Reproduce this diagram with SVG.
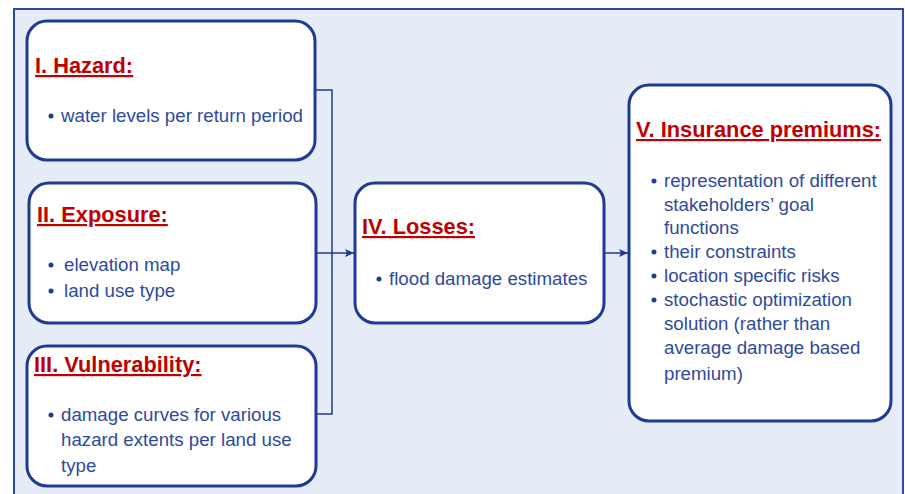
<svg xmlns="http://www.w3.org/2000/svg" width="905" height="494" viewBox="0 0 905 494">
<defs>
<style>
.box{fill:#fff;stroke:#1f3a93;stroke-width:3}
.t{font-family:"Liberation Sans",Arial,sans-serif;font-weight:bold;font-size:21.8px;fill:#c00000;text-decoration:underline}
.b{font-family:"Liberation Sans",Arial,sans-serif;font-size:18.7px;fill:#2e4a9e}
.dot{fill:#1f3a93}
.c{fill:none;stroke:#1f3a93;stroke-width:1.5}
</style>
<marker id="ar" markerWidth="10" markerHeight="10" refX="9" refY="5" orient="auto" markerUnits="userSpaceOnUse">
<path d="M0,1 L9,5 L0,9 L2,5 Z" fill="#1f3a93"/>
</marker>
</defs>
<rect x="14" y="9" width="889" height="495" fill="#e6ecf7" stroke="#2e49a0" stroke-width="2"/>
<g id="connectors">
<polyline class="c" points="315,90 332,90 332,414 316,414"/>
<line class="c" x1="316" y1="253" x2="354" y2="253" marker-end="url(#ar)"/>
<line class="c" x1="604" y1="253" x2="628" y2="253" marker-end="url(#ar)"/>
</g>
<g id="hazard">
<rect class="box" x="27" y="21" width="288" height="139" rx="20"/>
<text class="t" x="35" y="73">I. Hazard:</text>
<circle class="dot" cx="51" cy="116" r="2.5"/>
<text class="b" x="61" y="122">water levels per return period</text>
</g>
<g id="exposure">
<rect class="box" x="29" y="183" width="287" height="140" rx="20"/>
<text class="t" x="37" y="222">II. Exposure:</text>
<circle class="dot" cx="51" cy="265" r="2.5"/>
<text class="b" x="64" y="271">elevation map</text>
<circle class="dot" cx="51" cy="291" r="2.5"/>
<text class="b" x="64" y="297">land use type</text>
</g>
<g id="vulnerability">
<rect class="box" x="27" y="346" width="289" height="140" rx="20"/>
<text class="t" x="34" y="372">III. Vulnerability:</text>
<circle class="dot" cx="51" cy="415" r="2.5"/>
<text class="b" x="61" y="421">damage curves for various</text>
<text class="b" x="61" y="446">hazard extents per land use</text>
<text class="b" x="61" y="472">type</text>
</g>
<g id="losses">
<rect class="box" x="355" y="183" width="249" height="140" rx="20"/>
<text class="t" x="362" y="234">IV. Losses:</text>
<circle class="dot" cx="379" cy="279" r="2.5"/>
<text class="b" x="389" y="285">flood damage estimates</text>
</g>
<g id="premiums">
<rect class="box" x="629" y="85" width="262" height="336" rx="20"/>
<text class="t" x="636" y="137">V. Insurance premiums:</text>
<circle class="dot" cx="654" cy="181" r="2.5"/>
<text class="b" x="664" y="187">representation of different</text>
<text class="b" x="664" y="211">stakeholders’ goal</text>
<text class="b" x="664" y="234">functions</text>
<circle class="dot" cx="654" cy="252" r="2.5"/>
<text class="b" x="664" y="258">their constraints</text>
<circle class="dot" cx="654" cy="276" r="2.5"/>
<text class="b" x="664" y="282">location specific risks</text>
<circle class="dot" cx="654" cy="300" r="2.5"/>
<text class="b" x="664" y="306">stochastic optimization</text>
<text class="b" x="664" y="330">solution (rather than</text>
<text class="b" x="664" y="354">average damage based</text>
<text class="b" x="664" y="380">premium)</text>
</g>
</svg>
